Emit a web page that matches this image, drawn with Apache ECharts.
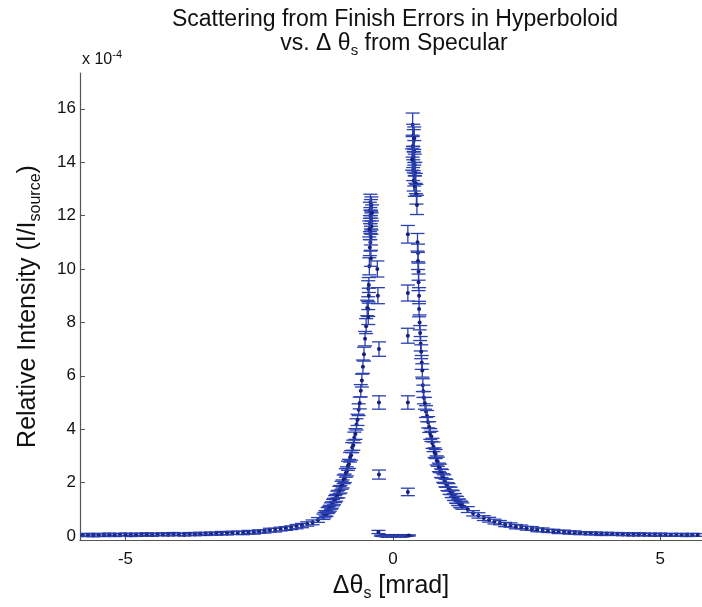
<!DOCTYPE html>
<html>
<head>
<meta charset="utf-8">
<script src="https://cdn.jsdelivr.net/npm/echarts@6/dist/echarts.min.js"></script>
<style>
  html, body { margin: 0; padding: 0; background: #fff; }
  #chart { width: 702px; height: 607px; }
</style>
</head>
<body>
<div id="chart"></div>
<script>
// Intensity values are in units of 1e-4 (I/I_source); angle in mrad.
// Each entry: [delta theta_s, intensity, error]
const leftTail = [
  [-5.8,0.03,0.05],[-5.7,0.05,0.05],[-5.6,0.02,0.05],[-5.5,0.05,0.05],[-5.4,0.03,0.05],
  [-5.3,0.06,0.05],[-5.2,0.03,0.05],[-5.1,0.05,0.05],[-5.0,0.06,0.05],[-4.9,0.03,0.05],
  [-4.8,0.06,0.05],[-4.7,0.04,0.05],[-4.6,0.07,0.05],[-4.5,0.04,0.05],[-4.4,0.06,0.05],
  [-4.3,0.07,0.05],[-4.2,0.05,0.05],[-4.1,0.08,0.05],[-4.0,0.06,0.05],[-3.9,0.05,0.05],
  [-3.8,0.08,0.05],[-3.7,0.06,0.05],[-3.6,0.09,0.05],[-3.5,0.07,0.05],[-3.4,0.10,0.05],
  [-3.3,0.08,0.05],[-3.2,0.11,0.06],[-3.1,0.09,0.05],[-3.0,0.12,0.06],[-2.9,0.12,0.06],
  [-2.8,0.11,0.06],[-2.7,0.15,0.06],[-2.6,0.13,0.06],[-2.5,0.17,0.06],[-2.4,0.17,0.06],
  [-2.3,0.22,0.07],[-2.2,0.22,0.07],[-2.1,0.26,0.07],[-2.0,0.28,0.07],[-1.9,0.31,0.07],
  [-1.8,0.35,0.08],[-1.7,0.39,0.08],[-1.6,0.45,0.08],[-1.5,0.51,0.09],[-1.4,0.60,0.09],
  [-1.3,0.72,0.10]
];
const leftCore = [
  [-1.28,0.78,0.10],[-1.26,0.85,0.10],[-1.24,0.83,0.10],[-1.22,0.95,0.11],[-1.20,0.99,0.11],
  [-1.18,1.04,0.11],[-1.16,1.12,0.12],[-1.14,1.16,0.12],[-1.12,1.25,0.12],[-1.10,1.29,0.12],
  [-1.08,1.38,0.13],[-1.06,1.43,0.13],[-1.04,1.55,0.13],[-1.02,1.57,0.14],[-1.00,1.72,0.14],
  [-0.98,1.75,0.14],[-0.96,1.90,0.15],[-0.94,1.95,0.15],[-0.92,2.12,0.16],[-0.90,2.16,0.16],
  [-0.88,2.36,0.16],[-0.86,2.42,0.17],[-0.84,2.63,0.17],[-0.82,2.70,0.17],[-0.80,2.95,0.18],
  [-0.78,3.02,0.18],[-0.76,3.31,0.19],[-0.74,3.40,0.19],[-0.72,3.69,0.20],[-0.70,3.82,0.20],
  [-0.68,4.18,0.21],[-0.66,4.35,0.21],[-0.64,4.73,0.22],[-0.62,4.98,0.22],[-0.60,5.44,0.23],
  [-0.58,5.82,0.24],[-0.56,6.34,0.25],[-0.54,6.81,0.26],[-0.52,7.39,0.27],[-0.50,7.86,0.28],
  [-0.48,8.54,0.29],[-0.46,9.26,0.30],[-0.44,10.1,0.32],[-0.42,11.0,0.33],[-0.40,11.8,0.34]
];
const leftPeak = [
  [-0.42,12.5,0.30],[-0.41,12.3,0.30],[-0.43,12.2,0.30],[-0.40,12.4,0.30],[-0.42,12.0,0.30],
  [-0.41,11.9,0.30],[-0.43,11.7,0.30],[-0.40,11.6,0.30],[-0.42,11.4,0.30],[-0.41,11.2,0.30],
  [-0.44,11.5,0.30],[-0.39,12.1,0.30],[-0.43,10.8,0.30],[-0.41,10.4,0.30],[-0.45,9.4,0.28],
  [-0.45,9.0,0.28],[-0.46,8.5,0.28],[-0.46,8.2,0.28]
];
const centerPoints = [
  [-0.29,10.0,0.30],[-0.28,9.0,0.30],[-0.26,7.0,0.27],[-0.26,5.0,0.25],[-0.26,2.3,0.17],[-0.27,0.15,0.06],
  [0.28,11.3,0.33],[0.28,9.1,0.30],[0.28,7.5,0.28],[0.28,5.0,0.25],[0.28,1.65,0.14],
  [-0.22,0.01,0.02],[-0.18,0.00,0.02],[-0.14,0.01,0.02],[-0.10,0.00,0.02],[-0.06,0.01,0.02],
  [-0.02,0.00,0.02],[0.02,0.01,0.02],[0.06,0.00,0.02],[0.10,0.01,0.02],[0.14,0.00,0.02],
  [0.18,0.01,0.02],[0.22,0.00,0.02],[0.26,0.01,0.02],[0.30,0.02,0.02]
];
const rightPeak = [
  [0.37,15.4,0.44],[0.38,15.0,0.42],[0.39,14.8,0.42],[0.37,14.6,0.41],[0.40,14.4,0.41],
  [0.38,14.2,0.40],[0.39,14.0,0.40],[0.41,13.9,0.40],[0.38,13.7,0.39],[0.40,13.5,0.39],
  [0.42,13.6,0.39],[0.39,13.3,0.38],[0.41,13.1,0.38],[0.43,13.2,0.38],[0.44,12.8,0.37],
  [0.45,12.4,0.36],[0.36,14.1,0.40],[0.40,14.9,0.42]
];
const rightCore = [
  [0.46,11.0,0.33],[0.47,10.6,0.33],[0.47,10.3,0.32],[0.48,9.9,0.32],[0.48,9.5,0.31],
  [0.49,9.0,0.30],[0.49,8.5,0.29],[0.50,8.0,0.28],[0.51,7.6,0.28],[0.52,7.2,0.27],
  [0.53,6.9,0.26],[0.54,6.5,0.26],[0.55,6.2,0.25],[0.56,5.65,0.24],[0.57,5.42,0.23],
  [0.58,5.18,0.23],[0.60,4.97,0.22],[0.62,4.66,0.22],[0.64,4.49,0.21],[0.66,4.26,0.21],
  [0.68,4.08,0.20],[0.70,3.82,0.20],[0.72,3.73,0.19],[0.74,3.47,0.19],[0.76,3.34,0.18],
  [0.78,3.12,0.18],[0.80,3.07,0.17],[0.82,2.83,0.17],[0.84,2.78,0.17],[0.86,2.57,0.16],
  [0.88,2.53,0.16],[0.90,2.35,0.16],[0.92,2.33,0.16],[0.94,2.17,0.16],[0.96,2.13,0.16],
  [0.98,1.99,0.15],[1.00,1.97,0.15],[1.02,1.85,0.15],[1.04,1.82,0.14],[1.06,1.70,0.14],
  [1.08,1.69,0.14],[1.10,1.58,0.14],[1.12,1.57,0.13],[1.14,1.46,0.13],[1.16,1.46,0.13],
  [1.18,1.36,0.13],[1.20,1.35,0.13],[1.22,1.26,0.12],[1.24,1.26,0.12],[1.26,1.18,0.12],
  [1.28,1.18,0.12]
];
const rightTail = [
  [1.3,1.12,0.12],[1.4,0.99,0.11],[1.5,0.85,0.10],[1.6,0.77,0.10],[1.7,0.67,0.09],
  [1.8,0.61,0.09],[1.9,0.54,0.09],[2.0,0.50,0.08],[2.1,0.43,0.08],[2.2,0.41,0.08],
  [2.3,0.35,0.08],[2.4,0.34,0.07],[2.5,0.29,0.07],[2.6,0.28,0.07],[2.7,0.23,0.07],
  [2.8,0.23,0.07],[2.9,0.19,0.06],[3.0,0.19,0.06],[3.1,0.15,0.06],[3.2,0.16,0.06],
  [3.3,0.13,0.06],[3.4,0.13,0.06],[3.5,0.10,0.05],[3.6,0.11,0.05],[3.7,0.09,0.05],
  [3.8,0.10,0.05],[3.9,0.07,0.05],[4.0,0.09,0.05],[4.1,0.07,0.05],[4.2,0.08,0.05],
  [4.3,0.06,0.05],[4.4,0.07,0.05],[4.5,0.05,0.05],[4.6,0.07,0.05],[4.7,0.05,0.05],
  [4.8,0.06,0.05],[4.9,0.04,0.05],[5.0,0.06,0.05],[5.1,0.04,0.05],[5.2,0.05,0.05],
  [5.3,0.04,0.05],[5.4,0.05,0.05],[5.5,0.03,0.05],[5.6,0.05,0.05],[5.7,0.04,0.05]
];
const xTicks = [-5, 0, 5];
const yTicks = [0, 2, 4, 6, 8, 10, 12, 14, 16];

const allPoints = [].concat(leftTail, leftCore, leftPeak, centerPoints, rightPeak, rightCore, rightTail);

const FONT = "'Liberation Sans', Arial, Helvetica, sans-serif";
const BAR = '#2a3fb0';
const DOT = '#16207a';

function renderErrorBar(params, api) {
  const x = api.value(0), y = api.value(1), e = api.value(2);
  const top = api.coord([x, y + e]);
  const bot = api.coord([x, y - e]);
  const c = api.coord([x, y]);
  const hw = 7;
  const ls = { stroke: BAR, lineWidth: 1.3 };
  return {
    type: 'group',
    children: [
      { type: 'line', shape: { x1: top[0], y1: top[1], x2: bot[0], y2: bot[1] }, style: ls },
      { type: 'line', shape: { x1: top[0] - hw, y1: top[1], x2: top[0] + hw, y2: top[1] }, style: ls },
      { type: 'line', shape: { x1: bot[0] - hw, y1: bot[1], x2: bot[0] + hw, y2: bot[1] }, style: ls },
      { type: 'circle', shape: { cx: c[0], cy: c[1], r: 2 }, style: { fill: DOT } }
    ]
  };
}

const chart = echarts.init(document.getElementById('chart'), null, { renderer: 'canvas' });
chart.setOption({
  animation: false,
  backgroundColor: '#ffffff',
  grid: { left: 80, right: 0, top: 73, bottom: 67 },
  graphic: [
    { type: 'text', x: 395, y: 8,
      style: { text: 'Scattering from Finish Errors in Hyperboloid', fontSize: 23, fontFamily: FONT, fill: '#111',
               align: 'center', verticalAlign: 'top', textAlign: 'center', textVerticalAlign: 'top' } },
    { type: 'text', x: 394, y: 29,
      style: { text: 'vs. Δ θ{s|s} from Specular', fontSize: 23, fontFamily: FONT, fill: '#111',
               align: 'center', verticalAlign: 'top', textAlign: 'center', textVerticalAlign: 'top',
               rich: { s: { fontSize: 15, fontFamily: FONT, fill: '#111', padding: [14, 0, 0, 0] } } } },
    { type: 'text', x: 82, y: 49,
      style: { text: 'x 10{p|-4}', fontSize: 16, fontFamily: FONT, fill: '#111',
               align: 'left', verticalAlign: 'top', textAlign: 'left', textVerticalAlign: 'top',
               rich: { p: { fontSize: 11, fontFamily: FONT, fill: '#111', padding: [0, 0, 10, 0] } } } }
  ],
  xAxis: {
    type: 'value', min: -5.85, max: 5.78,
    name: 'Δθ{s|s} [mrad]', nameLocation: 'middle', nameGap: 30,
    nameTextStyle: { fontSize: 25, fontFamily: FONT, color: '#111',
      rich: { s: { fontSize: 16, fontFamily: FONT, color: '#111', padding: [16, 0, 0, 0] } } },
    axisLine: { show: true, onZero: false, lineStyle: { color: '#555', width: 1.2 } },
    axisTick: { show: true, inside: true, length: 5, customValues: xTicks, lineStyle: { color: '#555' } },
    axisLabel: { customValues: xTicks, fontSize: 17, fontFamily: FONT, color: '#111', margin: 11 },
    splitLine: { show: false }
  },
  yAxis: {
    type: 'value', min: -0.15, max: 17.34,
    name: 'Relative Intensity (I/I{s|source})', nameLocation: 'middle', nameGap: 36,
    nameTextStyle: { fontSize: 25, fontFamily: FONT, color: '#111',
      rich: { s: { fontSize: 16, fontFamily: FONT, color: '#111', padding: [16, 0, 0, 0] } } },
    axisLine: { show: true, onZero: false, lineStyle: { color: '#555', width: 1.2 } },
    axisTick: { show: true, inside: true, length: 5, customValues: yTicks, lineStyle: { color: '#555' } },
    axisLabel: { customValues: yTicks, fontSize: 17, fontFamily: FONT, color: '#111', margin: 4 },
    splitLine: { show: false }
  },
  series: [{
    type: 'custom',
    renderItem: renderErrorBar,
    clip: true,
    encode: { x: 0, y: 1 },
    data: allPoints
  }]
});
</script>
</body>
</html>
